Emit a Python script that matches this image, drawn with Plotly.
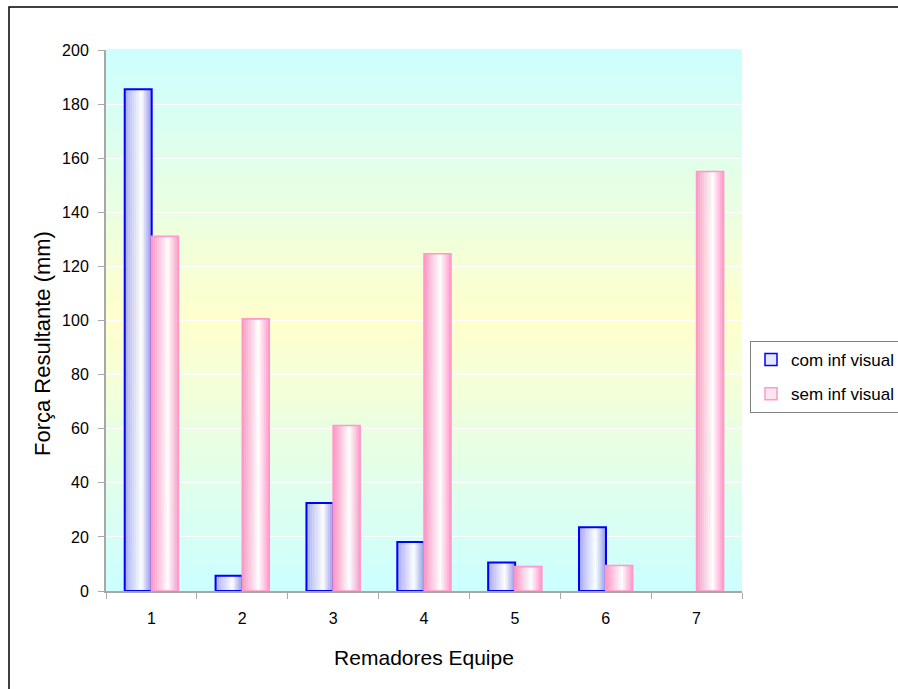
import plotly.graph_objects as go

categories = ["1", "2", "3", "4", "5", "6", "7"]
com_inf_visual = [185.5, 5.6, 32.5, 18.1, 10.5, 23.6, None]
sem_inf_visual = [131.1, 100.6, 61.2, 124.7, 9.0, 9.4, 155.1]
y_ticks = [0, 20, 40, 60, 80, 100, 120, 140, 160, 180, 200]

W, H = 898, 689
L, R, T, B = 106, 156, 50, 98
FONT = "Liberation Sans, Arial, sans-serif"


def hex2rgb(h):
    h = h.lstrip("#")
    return [int(h[i:i + 2], 16) for i in (0, 2, 4)]


def interp(stops, t):
    for (p0, c0), (p1, c1) in zip(stops, stops[1:]):
        if p0 <= t <= p1:
            f = (t - p0) / (p1 - p0) if p1 > p0 else 0
            a, b = hex2rgb(c0), hex2rgb(c1)
            return "rgb(%d,%d,%d)" % tuple(round(a[k] + (b[k] - a[k]) * f) for k in range(3))
    return stops[-1][1]


fig = go.Figure()

bar_w = 0.297
series = [
    ("com inf visual", com_inf_visual, -0.294,
     [(0, "#a4a4ee"), (0.2, "#c4c4f8"), (0.62, "#ffffff"), (1.0, "#9090e6")], "#0000ff", 2.0),
    ("sem inf visual", sem_inf_visual, 0.0,
     [(0, "#ff90c4"), (0.22, "#ffbcd8"), (0.6, "#ffffff"), (1.0, "#ff94c6")], "#ff99cc", 1.6),
]
N = 14
for name, vals, off, stops, lc, lw in series:
    for i in range(N):
        t = (i + 0.5) / N
        fig.add_trace(go.Bar(
            x=categories, y=vals, width=bar_w / N + 0.002, offset=off + i * bar_w / N,
            marker=dict(color=interp(stops, t), line=dict(width=0)),
            showlegend=False, hoverinfo="skip"))
    fig.add_trace(go.Bar(
        x=categories, y=vals, width=bar_w, offset=off, name=name,
        marker=dict(color="rgba(0,0,0,0)", line=dict(color=lc, width=lw)),
        showlegend=False))
    fig.add_trace(go.Bar(
        x=categories, y=[None] * len(categories), name=name, legendgroup=name,
        marker=dict(color=interp(stops, 0.45), line=dict(color=lc, width=1.5)),
        showlegend=True))

# background gradient (cyan - yellow - cyan)
shapes = []
NS = 60
cy, yl = hex2rgb("#ccffff"), hex2rgb("#ffffcc")
for i in range(NS):
    f0, f1 = i / NS, (i + 1) / NS
    t = abs((f0 + f1) / 2 - 0.5) * 2
    col = "rgb(%d,%d,%d)" % tuple(round(yl[k] + (cy[k] - yl[k]) * t) for k in range(3))
    shapes.append(dict(type="rect", xref="x domain", yref="y domain",
                       x0=0, x1=1, y0=f0, y1=f1 + 0.002, fillcolor=col,
                       line=dict(width=0), layer="below"))

pw, ph = W - L - R, H - T - B
shapes.append(dict(type="rect", xref="paper", yref="paper",
                   x0=(9 - L) / pw, x1=(910 - L) / pw,
                   y0=(H - B - 700) / ph, y1=(H - B - 7) / ph,
                   line=dict(color="black", width=1.5), fillcolor="rgba(0,0,0,0)"))

annotations = [dict(text="Força Resultante (mm)", textangle=-90, showarrow=False,
                    xref="paper", yref="paper",
                    x=(42 - L) / pw, y=(H - B - 344) / ph,
                    xanchor="center", yanchor="middle",
                    font=dict(family=FONT, size=22, color="black"))]

fig.update_layout(
    width=W, height=H,
    margin=dict(l=L, r=R, t=T, b=B, autoexpand=False),
    paper_bgcolor="white", plot_bgcolor="white",
    barmode="overlay",
    font=dict(family=FONT, size=16, color="black"),
    shapes=shapes,
    annotations=annotations,
    showlegend=True,
    legend=dict(x=(750 - L) / pw, y=(H - B - 341) / ph, xanchor="left", yanchor="top",
                bordercolor="#808080", borderwidth=1, bgcolor="white",
                font=dict(family=FONT, size=17, color="black"),
                tracegroupgap=9, traceorder="grouped", itemwidth=30),
    xaxis=dict(type="category", categoryorder="array", categoryarray=categories,
               showgrid=False, showline=True, linecolor="#a8a8a8", linewidth=2,
               ticks="outside", ticklen=6, tickcolor="#a8a8a8", tickwidth=1,
               tickson="boundaries", ticklabelstandoff=12,
               title=dict(text="Remadores Equipe", font=dict(size=21), standoff=24),
               range=[-0.5, 6.5], zeroline=False),
    yaxis=dict(range=[0, 200], tickvals=y_ticks, showgrid=True, gridcolor="white",
               gridwidth=1, showline=True, linecolor="#a8a8a8", linewidth=2,
               ticks="outside", ticklen=6, tickcolor="#a8a8a8", tickwidth=1,
               ticklabelstandoff=6, zeroline=False),
)

fig.write_html("out.html")
